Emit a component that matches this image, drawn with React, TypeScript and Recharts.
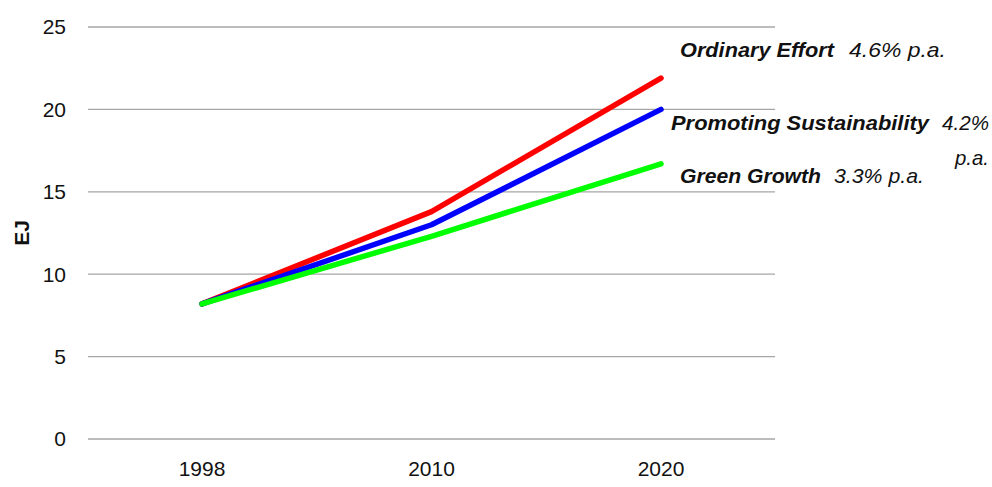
import { LineChart, Line, XAxis, YAxis, CartesianGrid } from "recharts";

const years = ["1998", "2010", "2020"];
const ordinaryEffort = [8.2, 13.8, 21.9];
const promotingSustainability = [8.2, 13.0, 20.0];
const greenGrowth = [8.2, 12.3, 16.7];
const seriesNames = ["Ordinary Effort", "Promoting Sustainability", "Green Growth"];
const growthRates = ["4.6%  p.a.", "4.2%", "3.3% p.a."];
const yTicks = [0, 5, 10, 15, 20, 25];

const data = years.map((year, i) => ({
  year,
  ordinary: ordinaryEffort[i],
  promoting: promotingSustainability[i],
  green: greenGrowth[i],
}));

const FONT = '"Liberation Sans", Arial, sans-serif';

// label layout: offset from end point, widths squeezed to the narrow face of the original
const labelBox = [
  { dx: 19, dy: -29, nameW: 154, rateDx: 169, rateW: 97 },
  { dx: 10, dy: 13, nameW: 258, rateDx: 271, rateW: 47 },
  { dx: 19, dy: 12, nameW: 141, rateDx: 154, rateW: 90 },
];

function endLabel(idx: number) {
  return (props: any) => {
    const { x, y, index } = props;
    if (index !== years.length - 1) return null;
    const b = labelBox[idx];
    const tx = x + b.dx;
    const ty = y + b.dy;
    return (
      <g fontFamily={FONT} fontSize={21} fill="#111" fontStyle="italic">
        <text x={tx} y={ty} dominantBaseline="central" fontWeight="bold" textLength={b.nameW} lengthAdjust="spacingAndGlyphs">
          {seriesNames[idx]}
        </text>
        <text x={tx + b.rateDx} y={ty} dominantBaseline="central" textLength={b.rateW} lengthAdjust="spacingAndGlyphs">
          {growthRates[idx]}
        </text>
        {idx === 1 && (
          <text x={989} y={ty + 35} textAnchor="end" dominantBaseline="central" textLength={34} lengthAdjust="spacingAndGlyphs">
            p.a.
          </text>
        )}
      </g>
    );
  };
}

export default function App() {
  return (
    <div style={{ position: "absolute", left: 0, top: 0, background: "#fff" }}>
      <LineChart width={992} height={487} data={data} margin={{ top: 27, right: 217, left: 28, bottom: 18 }}>
        <CartesianGrid vertical={false} stroke="#a6a6a6" strokeWidth={1.3} />
        <XAxis
          dataKey="year"
          axisLine={false}
          tickLine={false}
          tickSize={0}
          tickMargin={22}
          height={30}
          padding={{ left: 114, right: 114 }}
          tick={{ fontSize: 21, fill: "#111", fontFamily: FONT }}
        />
        <YAxis
          domain={[0, 25]}
          ticks={yTicks}
          axisLine={false}
          tickLine={false}
          tickSize={0}
          tickMargin={22}
          width={60}
          tick={{ fontSize: 21, fill: "#111", fontFamily: FONT }}
          label={{
            value: "EJ",
            angle: -90,
            position: "insideLeft",
            offset: -6,
            style: { fontSize: 21, fontWeight: "bold", fill: "#111", fontFamily: FONT, textAnchor: "middle" },
          }}
        />
        <Line
          dataKey="ordinary"
          stroke="#ff0000"
          strokeWidth={5.5}
          strokeLinecap="round"
          strokeLinejoin="round"
          dot={false}
          isAnimationActive={false}
          label={endLabel(0)}
        />
        <Line
          dataKey="promoting"
          stroke="#0000ff"
          strokeWidth={5.5}
          strokeLinecap="round"
          strokeLinejoin="round"
          dot={false}
          isAnimationActive={false}
          label={endLabel(1)}
        />
        <Line
          dataKey="green"
          stroke="#00ff00"
          strokeWidth={5.5}
          strokeLinecap="round"
          strokeLinejoin="round"
          dot={false}
          isAnimationActive={false}
          label={endLabel(2)}
        />
      </LineChart>
    </div>
  );
}
